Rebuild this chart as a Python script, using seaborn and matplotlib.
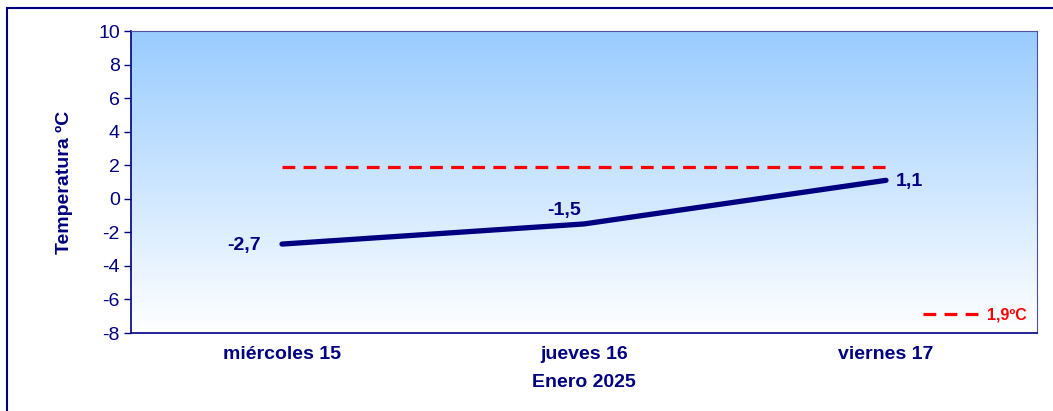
import numpy as np
import pandas as pd
import matplotlib
matplotlib.use('Agg')
import matplotlib.pyplot as plt
from matplotlib.colors import LinearSegmentedColormap
from matplotlib.lines import Line2D
from matplotlib.patches import Rectangle
import seaborn as sns

dias = ['miércoles 15', 'jueves 16', 'viernes 17']
temp_min = [-2.7, -1.5, 1.1]
etiquetas = ['-2,7', '-1,5', '1,1']
referencia = [1.9, 1.9, 1.9]
ref_label = '1,9ºC'
yticks = list(range(-8, 11, 2))

NAVY = '#000080'
RED = '#FF0000'

sns.set_theme(style='white')
plt.rcParams['font.family'] = ['Liberation Sans', 'DejaVu Sans']

df = pd.DataFrame({'dia': dias, 'x': range(len(dias)), 'temp': temp_min, 'ref': referencia})

fig = plt.figure(figsize=(10.53, 4.11), dpi=100)
ax = fig.add_axes([131 / 1053, 78 / 411, 906 / 1053, 302 / 411])

# outer frame of the chart area
fig.patches.append(Rectangle((7 / 1053, -0.1), 1.1, 1 - 8 / 411 + 0.1, transform=fig.transFigure,
                             fill=False, edgecolor=NAVY, linewidth=1.5, clip_on=False))

# gradient background
cmap = LinearSegmentedColormap.from_list('bg', ['#FFFFFF', '#99CCFF'])
grad = np.linspace(0, 1, 256).reshape(-1, 1)
ax.imshow(grad, extent=[-0.5, 2.5, -8, 10], origin='lower', aspect='auto', cmap=cmap, zorder=0)

sns.lineplot(data=df, x='x', y='ref', ax=ax, color=RED, linewidth=2.3, zorder=2)
ax.lines[-1].set_dashes([4, 2.6])
sns.lineplot(data=df, x='x', y='temp', ax=ax, color=NAVY, linewidth=3.8, zorder=3)
ax.lines[-1].set_solid_capstyle('round')

offsets = [(-27, -1), (-14, 10), (17, -1)]
for i, (v, lab) in enumerate(zip(temp_min, etiquetas)):
    ax.annotate(lab, (i, v), xytext=offsets[i], textcoords='offset points', ha='center', va='center',
                fontsize=14, fontweight='bold', color=NAVY)

ax.set_xlim(-0.5, 2.5)
ax.set_ylim(-8, 10)
ax.set_yticks(yticks)
ax.set_yticklabels([str(t) for t in yticks], fontsize=14, color=NAVY)
ax.set_xticks(range(len(dias)))
ax.set_xticklabels(dias, fontsize=14, fontweight='bold', color=NAVY)
ax.tick_params(axis='y', length=5, width=1, color=NAVY, left=True, pad=3)
ax.tick_params(axis='x', length=0, pad=9)
ax.set_xlabel('Enero 2025', fontsize=14, fontweight='bold', color=NAVY, labelpad=8)
ax.set_ylabel('Temperatura ºC', fontsize=14, fontweight='bold', color=NAVY, labelpad=18)
for side in ['left', 'bottom']:
    ax.spines[side].set_color(NAVY)
    ax.spines[side].set_linewidth(1.2)
for side in ['right', 'top']:
    ax.spines[side].set_color('#5050A0')
    ax.spines[side].set_linewidth(0.8)

handle = Line2D([], [], color=RED, linewidth=2.3, dashes=[4, 2.6])
leg = ax.legend([handle], [ref_label], loc='lower right', frameon=False, fontsize=11.5,
                handlelength=3.6, handletextpad=0.4, borderaxespad=0.25)
for t in leg.get_texts():
    t.set_color(RED)
    t.set_fontweight('bold')

fig.savefig('out.png', dpi=100)
